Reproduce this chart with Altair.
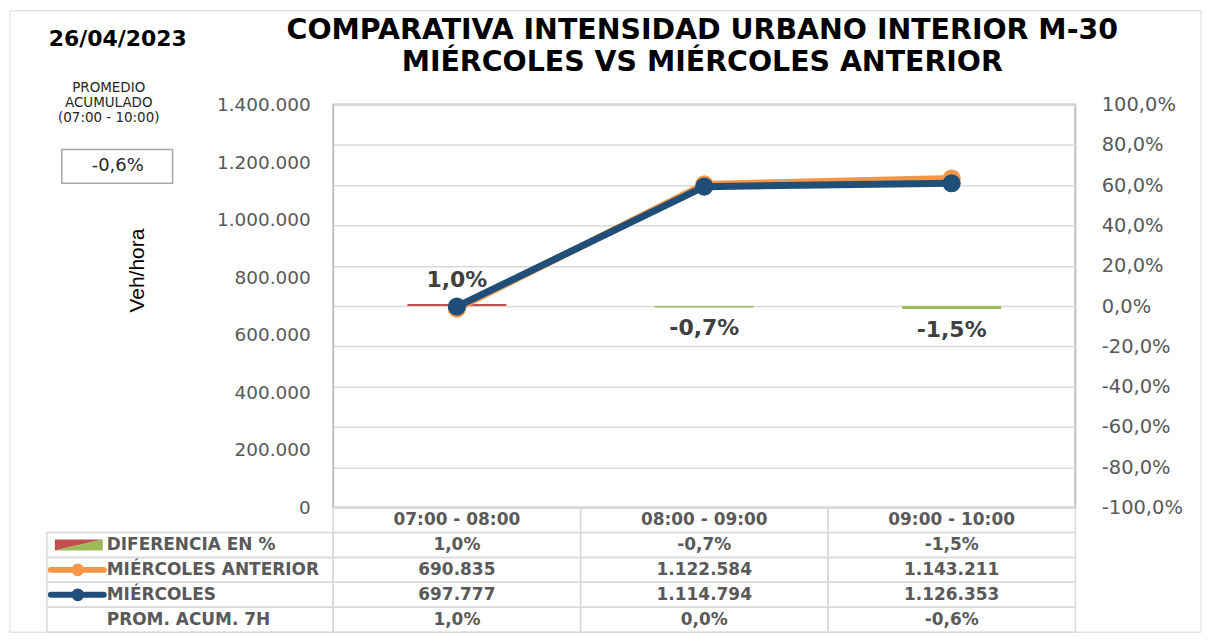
import altair as alt
import pandas as pd

# ---------------- data ----------------
fecha = "26/04/2023"
titulo_1 = "COMPARATIVA INTENSIDAD URBANO INTERIOR M-30"
titulo_2 = "MIÉRCOLES VS MIÉRCOLES ANTERIOR"
promedio_titulo = ["PROMEDIO", "ACUMULADO", "(07:00 - 10:00)"]
promedio_acumulado = -0.006

categories = ["07:00 - 08:00", "08:00 - 09:00", "09:00 - 10:00"]
miercoles_anterior = [690835, 1122584, 1143211]
miercoles = [697777, 1114794, 1126353]
diferencia_pct = [0.010, -0.007, -0.015]
prom_acum_7h = [0.010, 0.000, -0.006]

left_ticks = [0, 200000, 400000, 600000, 800000, 1000000, 1200000, 1400000]
right_ticks = [-1.0, -0.8, -0.6, -0.4, -0.2, 0.0, 0.2, 0.4, 0.6, 0.8, 1.0]

row_labels = ["DIFERENCIA EN %", "MIÉRCOLES ANTERIOR", "MIÉRCOLES", "PROM. ACUM. 7H"]
serie_ant = "MIÉRCOLES ANTERIOR"
serie_act = "MIÉRCOLES"

# ---------------- style ----------------
FONT = "DejaVu Sans"
GRAY = "#595959"
DARK = "#404040"
ORANGE = "#F79646"
BLUE = "#1F4E79"
RED = "#C0504D"
GREEN = "#9BBB59"
GRID = "#d9d9d9"
W, H = 744, 404
ROW_H = 25


def fmt_int(v):
    return f"{v:,}".replace(",", ".")


def fmt_pct(v):
    return f"{v * 100:.1f}%".replace(".", ",")


xscale = alt.Scale(type="band", domain=categories, paddingInner=0, paddingOuter=0)
xenc = alt.X("cat:N", scale=xscale, axis=None, sort=categories)

# ---------------- main plot ----------------
lines_df = pd.DataFrame({
    "cat": categories * 2,
    "value": miercoles_anterior + miercoles,
    "serie": [serie_ant] * 3 + [serie_act] * 3,
})

yleft = alt.Y(
    "value:Q",
    scale=alt.Scale(domain=[0, 1400000]),
    axis=alt.Axis(
        orient="left", values=left_ticks, format=",.0f", grid=False, domain=False,
        ticks=False, tickSize=0, labelPadding=23, labelFont=FONT, labelFontSize=18.5,
        labelColor=GRAY, labelFlush=False, labelOverlap=False,
        title="Veh/hora", titleFont="Liberation Sans Narrow, Liberation Sans",
        titleFontSize=21, titleFontWeight="normal", titleColor="black",
        titleX=-196, titleY=166, titleAngle=270, titleBaseline="middle", titleAlign="center",
    ),
)

line_ant = alt.Chart(lines_df).transform_filter(alt.datum.serie == serie_ant).mark_line(
    color=ORANGE, strokeWidth=7,
    point=alt.OverlayMarkDef(filled=True, size=330, color=ORANGE, opacity=1),
).encode(x=xenc, y=yleft)

line_act = alt.Chart(lines_df).transform_filter(alt.datum.serie == serie_act).mark_line(
    color=BLUE, strokeWidth=7,
    point=alt.OverlayMarkDef(filled=True, size=330, color=BLUE, opacity=1),
).encode(x=xenc, y=yleft)

lines_group = alt.layer(line_ant, line_act)

bars_df = pd.DataFrame({
    "cat": categories,
    "diff": diferencia_pct,
    "label": [fmt_pct(v) for v in diferencia_pct],
    "signo": ["pos" if v >= 0 else "neg" for v in diferencia_pct],
})

yright = alt.Y(
    "diff:Q",
    scale=alt.Scale(domain=[-1, 1]),
    axis=alt.Axis(
        orient="right", values=right_ticks, format=".1%", grid=True, gridColor=GRID,
        gridWidth=1.5, domain=False, ticks=False, tickSize=0, labelPadding=26,
        labelAlign="left", labelFont=FONT, labelFontSize=19.5, labelColor=GRAY,
        labelFlush=False, labelOverlap=False, title=None,
    ),
)

bars = alt.Chart(bars_df).mark_bar(width={"band": 0.4}, opacity=1).encode(
    x=xenc, y=yright,
    color=alt.Color("signo:N", scale=alt.Scale(domain=["pos", "neg"], range=[RED, GREEN]), legend=None),
)
lbl_pos = alt.Chart(bars_df).transform_filter(alt.datum.diff >= 0).mark_text(
    baseline="bottom", dy=-12, font=FONT, fontWeight="bold", fontSize=22, color=DARK
).encode(x=xenc, y=yright, text="label:N")
lbl_neg = alt.Chart(bars_df).transform_filter(alt.datum.diff < 0).mark_text(
    baseline="top", dy=11, font=FONT, fontWeight="bold", fontSize=22, color=DARK
).encode(x=xenc, y=yright, text="label:N")

bars_group = alt.layer(bars, lbl_pos, lbl_neg)

# ---------------- decorations ----------------
one = pd.DataFrame({"t": [""]})
frame = alt.Chart(one).mark_rect(fillOpacity=0, stroke=GRID, strokeWidth=1).encode(
    x=alt.value(-324), x2=alt.value(870), y=alt.value(-94), y2=alt.value(529)
)
title_l1 = alt.Chart(pd.DataFrame({"t": [titulo_1]})).mark_text(
    font=FONT, fontWeight="bold", fontSize=28.5, color="black",
    align="center", baseline="alphabetic",
).encode(x=alt.value(W / 2 - 2), y=alt.value(-66), text="t:N")
title_l2 = alt.Chart(pd.DataFrame({"t": [titulo_2]})).mark_text(
    font=FONT, fontWeight="bold", fontSize=28.5, color="black",
    align="center", baseline="alphabetic",
).encode(x=alt.value(W / 2 - 2), y=alt.value(-34), text="t:N")
date_mark = alt.Chart(pd.DataFrame({"t": [fecha]})).mark_text(
    font=FONT, fontWeight="bold", fontSize=22, color="black", align="center", baseline="alphabetic"
).encode(x=alt.value(-216), y=alt.value(-59), text="t:N")
prom_title = alt.Chart(one).mark_text(
    text=promedio_titulo, font=FONT, fontSize=13.5, color="#262626", align="center",
    baseline="alphabetic", lineHeight=15.5,
).encode(x=alt.value(-225), y=alt.value(-13))
box = alt.Chart(one).mark_rect(fill="white", stroke="#a6a6a6", strokeWidth=1.5).encode(
    x=alt.value(-272), x2=alt.value(-161), y=alt.value(45), y2=alt.value(79)
)
box_txt = alt.Chart(pd.DataFrame({"t": [fmt_pct(promedio_acumulado)]})).mark_text(
    font=FONT, fontSize=18, color="#262626", align="center", baseline="middle"
).encode(x=alt.value(-216), y=alt.value(62), text="t:N")

top = alt.layer(
    frame, title_l1, title_l2, date_mark, prom_title, box, box_txt, bars_group, lines_group
).resolve_scale(y="independent").properties(
    width=W, height=H, view=alt.ViewBackground(stroke="#bfbfbf", strokeWidth=2)
)

# ---------------- data table ----------------
rows = ["hdr"] + row_labels
yscale_t = alt.Scale(type="band", domain=rows, paddingInner=0, paddingOuter=0)
yenc_t = alt.Y("row:N", scale=yscale_t, axis=None, sort=rows)

table_rows = []
for i, c in enumerate(categories):
    table_rows.append({"cat": c, "row": "hdr", "txt": c})
    table_rows.append({"cat": c, "row": row_labels[0], "txt": fmt_pct(diferencia_pct[i])})
    table_rows.append({"cat": c, "row": row_labels[1], "txt": fmt_int(miercoles_anterior[i])})
    table_rows.append({"cat": c, "row": row_labels[2], "txt": fmt_int(miercoles[i])})
    table_rows.append({"cat": c, "row": row_labels[3], "txt": fmt_pct(prom_acum_7h[i])})
table_df = pd.DataFrame(table_rows)
labels_df = pd.DataFrame({"row": row_labels})

cells = alt.Chart(table_df).mark_rect(fillOpacity=0, stroke=GRID, strokeWidth=1.5).encode(
    x=xenc, y=yenc_t
)
label_cells = alt.Chart(labels_df).mark_rect(fillOpacity=0, stroke=GRID, strokeWidth=1.5).encode(
    x=alt.value(-287), x2=alt.value(0), y=yenc_t
)
values_txt = alt.Chart(table_df).mark_text(
    font=FONT, fontWeight="bold", fontSize=17, color=GRAY, align="center", baseline="middle"
).encode(x=xenc, y=yenc_t, text="txt:N")
labels_txt = alt.Chart(labels_df).mark_text(
    font=FONT, fontWeight="bold", fontSize=17, color=GRAY, align="left", baseline="middle"
).encode(x=alt.value(-227), y=yenc_t, text="row:N")

dif_df = pd.DataFrame({"row": [row_labels[0]]})
ant_df = pd.DataFrame({"row": [row_labels[1]]})
act_df = pd.DataFrame({"row": [row_labels[2]]})

icon_red = alt.Chart(dif_df).mark_point(
    shape="M -1 -0.23 L 1 -0.23 L -1 0.23 Z", filled=True, color=RED, size=2304, opacity=1, strokeWidth=0
).encode(x=alt.value(-255), y=yenc_t)
icon_green = alt.Chart(dif_df).mark_point(
    shape="M 1 -0.23 L 1 0.23 L -1 0.23 Z", filled=True, color=GREEN, size=2304, opacity=1, strokeWidth=0
).encode(x=alt.value(-255), y=yenc_t)
icon_ant_line = alt.Chart(ant_df).mark_rule(color=ORANGE, strokeWidth=6, strokeCap="round").encode(
    x=alt.value(-283), x2=alt.value(-230), y=yenc_t
)
icon_ant_pt = alt.Chart(ant_df).mark_point(filled=True, color=ORANGE, size=160, opacity=1).encode(
    x=alt.value(-256), y=yenc_t
)
icon_act_line = alt.Chart(act_df).mark_rule(color=BLUE, strokeWidth=6, strokeCap="round").encode(
    x=alt.value(-283), x2=alt.value(-230), y=yenc_t
)
icon_act_pt = alt.Chart(act_df).mark_point(filled=True, color=BLUE, size=160, opacity=1).encode(
    x=alt.value(-256), y=yenc_t
)

table = alt.layer(
    cells, label_cells, values_txt, labels_txt,
    icon_red, icon_green, icon_ant_line, icon_ant_pt, icon_act_line, icon_act_pt,
).properties(width=W, height=ROW_H * len(rows), view=alt.ViewBackground(strokeWidth=0))

chart = alt.vconcat(top, table, spacing=0, bounds="flush").properties(
    padding={"left": 0, "top": 0, "right": 0, "bottom": 0}
).configure(
    locale={"number": {"decimal": ",", "thousands": ".", "grouping": [3],
                       "currency": ["", " €"], "minus": "-"}}
).configure_view(strokeWidth=0)

chart.save("out.html", embed_options={"renderer": "svg", "actions": False})
